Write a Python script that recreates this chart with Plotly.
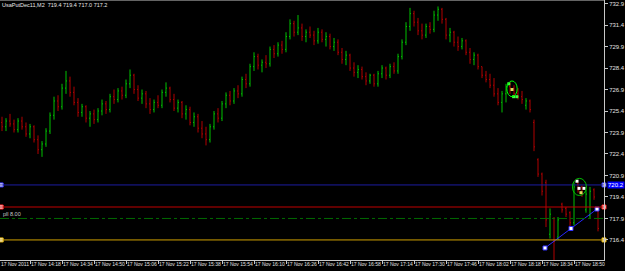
import plotly.graph_objects as go

opens = [724.6,724.3,724.7,724.5,724.1,724.7,724.3,723.8,724.3,723.4,
         722.7,723.1,724.0,725.1,726.1,725.7,727.0,727.5,726.7,726.0,
         725.3,725.7,724.9,725.2,724.8,725.4,725.9,725.5,726.4,726.2,
         726.8,726.5,727.3,727.9,726.9,726.3,726.6,725.9,725.5,726.0,
         725.8,726.7,727.0,726.2,725.6,726.0,725.2,725.5,724.6,725.0,
         724.2,723.8,723.4,724.3,725.2,724.9,725.9,726.5,726.1,726.8,
         726.6,727.6,727.3,728.5,729.2,728.6,728.8,728.7,729.7,729.4,
         730.0,729.7,730.6,731.5,730.9,731.2,730.6,730.9,730.7,730.3,
         730.9,730.4,730.6,729.9,730.2,729.5,729.0,729.3,728.4,728.1,
         728.3,727.8,727.5,727.9,727.3,728.0,728.4,727.9,728.5,728.2,
         729.2,730.2,731.3,732.2,731.6,731.0,730.7,731.3,731.1,732.1,
         732.5,731.8,730.7,730.9,730.2,729.9,730.3,729.5,729.0,729.3,
         728.5,727.9,727.6,727.2,726.6,726.0,726.6,727.1,727.0,726.6,
         726.4,725.8,726.1,724.6,722.0,721.0,720.4,716.8,717.9,716.6,
         718.9,718.6,718.3,717.6,720.3,720.1,718.5,718.1,719.9,718.4]
highs = [725.0,724.9,725.2,724.8,724.9,725.0,724.6,724.5,724.4,723.7,
         723.3,724.2,725.3,726.4,726.5,727.3,728.2,727.8,727.1,726.3,
         725.9,725.8,725.4,725.5,725.6,726.2,726.1,726.6,726.9,727.0,
         727.1,727.6,728.3,728.0,727.2,726.9,726.8,726.3,726.2,726.5,
         726.9,727.4,727.1,726.6,726.2,726.1,725.8,725.7,725.3,725.2,
         724.7,724.3,724.5,725.4,725.6,726.1,726.7,726.8,727.0,727.2,
         727.8,728.0,728.7,729.5,729.4,729.0,729.3,729.9,730.0,730.2,
         730.3,730.9,731.8,731.7,732.1,731.5,731.1,731.3,731.0,731.2,
         731.1,730.9,730.8,730.5,730.4,729.8,729.6,729.4,728.8,728.6,
         728.5,728.1,728.0,728.0,728.2,728.6,728.5,728.7,728.8,729.4,
         730.4,731.6,732.6,732.4,731.9,731.5,731.5,731.6,732.4,732.7,
         732.6,731.9,731.2,731.0,730.6,730.5,730.4,729.8,729.5,729.4,
         728.5,728.2,728.0,727.7,727.0,726.8,727.3,727.4,727.2,727.0,
         726.8,726.3,726.2,724.8,722.1,721.1,720.6,718.6,718.0,718.0,
         719.0,718.7,718.4,720.4,720.4,720.2,719.9,720.1,720.0,718.5]
lows = [724.0,724.0,724.3,723.9,723.9,724.1,723.6,723.5,723.2,722.4,
        722.2,722.9,723.8,724.8,725.4,725.5,726.6,726.4,725.8,725.0,
        725.0,724.6,724.3,724.5,724.6,725.1,725.2,725.3,725.9,726.0,
        726.2,726.3,727.0,726.6,726.1,725.9,725.6,725.2,725.3,725.6,
        725.6,726.4,726.0,725.4,725.3,724.9,724.8,724.4,724.3,723.9,
        723.5,723.0,723.2,724.1,724.6,724.7,725.6,725.8,725.9,726.3,
        726.4,727.0,727.1,728.2,728.3,728.1,728.4,728.5,729.1,729.2,
        729.4,729.5,730.4,730.6,730.7,730.3,730.2,730.5,730.0,730.1,
        730.2,729.9,729.7,729.6,729.3,728.7,728.6,728.2,727.8,727.7,
        727.6,727.2,727.3,727.1,727.1,727.7,727.6,727.7,728.0,728.0,
        729.0,730.0,731.0,731.3,730.7,730.4,730.5,730.8,730.9,731.7,
        731.5,730.4,730.2,729.9,729.6,729.7,729.3,728.7,728.6,728.3,
        727.7,727.4,727.0,726.4,725.8,725.3,726.0,726.6,726.4,726.2,
        725.9,725.5,725.3,722.6,720.8,719.5,717.3,716.5,715.0,716.4,
        718.3,718.0,717.3,717.4,719.7,719.4,718.3,717.9,719.2,717.0]
closes = [724.3,724.7,724.5,724.1,724.7,724.3,723.8,724.3,723.4,722.7,
          723.1,724.0,725.1,726.1,725.7,727.0,727.5,726.7,726.0,725.3,
          725.7,724.9,725.2,724.8,725.4,725.9,725.5,726.4,726.2,726.8,
          726.5,727.3,727.9,726.9,726.3,726.6,725.9,725.5,726.0,725.8,
          726.7,727.0,726.2,725.6,726.0,725.2,725.5,724.6,725.0,724.2,
          723.8,723.4,724.3,725.2,724.9,725.9,726.5,726.1,726.8,726.6,
          727.6,727.3,728.5,729.2,728.6,728.8,728.7,729.7,729.4,730.0,
          729.7,730.6,731.5,730.9,731.2,730.6,730.9,730.7,730.3,730.9,
          730.4,730.6,729.9,730.2,729.5,729.0,729.3,728.4,728.1,728.3,
          727.8,727.5,727.9,727.3,728.0,728.4,727.9,728.5,728.2,729.2,
          730.2,731.3,732.2,731.6,731.0,730.7,731.3,731.1,732.1,732.5,
          731.8,730.7,730.9,730.2,729.9,730.3,729.5,729.0,729.3,728.5,
          727.9,727.6,727.2,726.6,726.0,726.6,727.1,727.0,726.6,726.4,
          726.2,726.1,725.5,722.9,721.0,719.8,717.8,718.2,716.3,717.8,
          718.5,718.2,717.6,720.1,719.9,719.6,719.6,719.8,719.4,717.2]

price_ticks = [716.4, 717.9, 719.4, 720.9, 722.4, 723.9, 725.4, 726.9, 728.4, 729.9, 731.4, 732.9]
time_labels = ["17 Nov 2011", "17 Nov 14:18", "17 Nov 14:34", "17 Nov 14:50", "17 Nov 15:06",
               "17 Nov 15:22", "17 Nov 15:38", "17 Nov 15:54", "17 Nov 16:10", "17 Nov 16:26",
               "17 Nov 16:42", "17 Nov 16:58", "17 Nov 17:14", "17 Nov 17:30", "17 Nov 17:46",
               "17 Nov 18:02", "17 Nov 18:18", "17 Nov 18:34", "17 Nov 18:50"]
label_bars = [-0.5, 7, 15, 23, 31, 39, 47, 55, 63, 71, 79, 87, 95, 103, 111, 119, 127, 135, 143]

level_blue = 720.24
level_red = 718.7
level_green = 717.9
level_yellow = 716.4

trend_x = [135.75, 142.25, 148.75]
trend_y = [715.84, 717.2, 718.56]

ell1_dots_x = [126.7, 127.9, 128.7, 127.5]
ell1_dots_y = [727.3, 726.4, 726.4, 726.9]
ell2_dots_x = [143.75, 144.25, 145.5, 144.75]
ell2_dots_y = [720.5, 720.0, 720.0, 719.7]

title_text = "UsaPutDec11,M2  719.4 719.4 717.0 717.2"

FONT = "Liberation Sans, Arial, sans-serif"

x = list(range(len(closes)))
fig = go.Figure()
fig.add_trace(go.Ohlc(x=x, open=opens, high=highs, low=lows, close=closes,
                      increasing=dict(line=dict(color="#00c000", width=1)),
                      decreasing=dict(line=dict(color="#b00000", width=1)),
                      tickwidth=0.25, hoverinfo="skip", showlegend=False))

shapes = []
def hline(y, color, dash="solid"):
    shapes.append(dict(type="line", xref="x", yref="y", x0=-0.5, x1=150.5, y0=y, y1=y,
                       line=dict(color=color, width=1, dash=dash)))
hline(level_blue, "#1c1ca0")
hline(level_red, "#c00000")
hline(level_green, "#006a00", "dashdot")
hline(level_yellow, "#d0a000")
shapes.append(dict(type="line", xref="paper", yref="paper", x0=0, x1=1, y0=1, y1=1,
                   line=dict(color="#c8c8c8", width=1)))
shapes.append(dict(type="circle", xref="x", yref="y", x0=126.2, x1=128.8, y0=726.4, y1=727.5,
                   line=dict(color="#00ff00", width=1)))
shapes.append(dict(type="circle", xref="x", yref="y", x0=142.6, x1=146.1, y0=719.5, y1=720.7,
                   line=dict(color="#00c000", width=1)))
fig.update_layout(shapes=shapes)

fig.add_trace(go.Scatter(x=[trend_x[0], trend_x[-1]], y=[trend_y[0], trend_y[-1]], mode="lines",
                         line=dict(color="#2828ff", width=1), hoverinfo="skip", showlegend=False))
fig.add_trace(go.Scatter(x=trend_x, y=trend_y, mode="markers",
                         marker=dict(symbol="square", size=4, color="white",
                                     line=dict(color="#3030ff", width=1)),
                         hoverinfo="skip", showlegend=False))
fig.add_trace(go.Scatter(x=ell1_dots_x[:3], y=ell1_dots_y[:3], mode="markers",
                         marker=dict(symbol="square", size=3, color="#40ff40"),
                         hoverinfo="skip", showlegend=False))
fig.add_trace(go.Scatter(x=ell1_dots_x[3:], y=ell1_dots_y[3:], mode="markers",
                         marker=dict(symbol="square", size=3, color="#e0e060"),
                         hoverinfo="skip", showlegend=False))
fig.add_trace(go.Scatter(x=ell2_dots_x[:3], y=ell2_dots_y[:3], mode="markers",
                         marker=dict(symbol="square", size=3, color="white"),
                         hoverinfo="skip", showlegend=False))
fig.add_trace(go.Scatter(x=ell2_dots_x[3:], y=ell2_dots_y[3:], mode="markers",
                         marker=dict(symbol="square", size=3, color="#e0e060"),
                         hoverinfo="skip", showlegend=False))
lvl_y = [level_blue, level_red, level_yellow]
lvl_c = ["#3030ff", "#ff2020", "#e0b000"]
fig.add_trace(go.Scatter(x=[-0.2] * 3, y=lvl_y, mode="markers",
                         marker=dict(symbol="square", size=4, color="white", line=dict(color=lvl_c, width=1)),
                         cliponaxis=False, hoverinfo="skip", showlegend=False))
fig.add_trace(go.Scatter(x=[150.5] * 3, y=lvl_y, mode="markers",
                         marker=dict(symbol="square", size=4, color="white", line=dict(color=lvl_c, width=1)),
                         cliponaxis=False, hoverinfo="skip", showlegend=False))

annotations = []
for lb, tx in zip(label_bars, time_labels):
    annotations.append(dict(x=lb, y=0, xref="x", yref="paper", text=tx, showarrow=False,
                            xanchor="left", yanchor="top", xshift=0, yshift=0, borderpad=0,
                            font=dict(family=FONT, size=5, color="#e0e0e0")))
annotations.append(dict(x=0, y=1, xref="paper", yref="paper", text=title_text, showarrow=False,
                        xanchor="left", yanchor="top", xshift=1, yshift=-1, borderpad=0,
                        font=dict(family=FONT, size=5.5, color="#e8e8e8")))
annotations.append(dict(x=0, y=level_green, xref="paper", yref="y", text="pll 8.00", showarrow=False,
                        xanchor="left", yanchor="bottom", xshift=2, yshift=0, borderpad=0,
                        font=dict(family=FONT, size=5.5, color="#c8c8c8")))
annotations.append(dict(x=1, y=level_blue, xref="paper", yref="y", text="720.2", showarrow=False,
                        xanchor="left", yanchor="middle", xshift=3, bgcolor="#0000ff", borderpad=0,
                        font=dict(family=FONT, size=6, color="white")))
fig.update_layout(annotations=annotations)

fig.update_layout(
    width=625, height=271,
    margin=dict(l=0, r=21, t=0, b=11),
    paper_bgcolor="black", plot_bgcolor="black",
    xaxis=dict(range=[-0.5, 150.5], rangeslider=dict(visible=False), showgrid=False, zeroline=False,
               showline=True, linecolor="#c8c8c8", linewidth=1,
               tickmode="array", tickvals=label_bars[1:], ticks="outside", ticklen=3,
               tickcolor="#c8c8c8", showticklabels=False),
    yaxis=dict(range=[715.0, 733.15], side="right", showgrid=False, zeroline=False,
               showline=True, linecolor="#c8c8c8", linewidth=1,
               tickmode="array", tickvals=price_ticks, ticktext=[f"{v:.1f}" for v in price_ticks],
               ticks="outside", ticklen=3, tickcolor="#c8c8c8",
               tickfont=dict(family=FONT, size=6, color="#e0e0e0")),
)

fig.write_html("out.html")
